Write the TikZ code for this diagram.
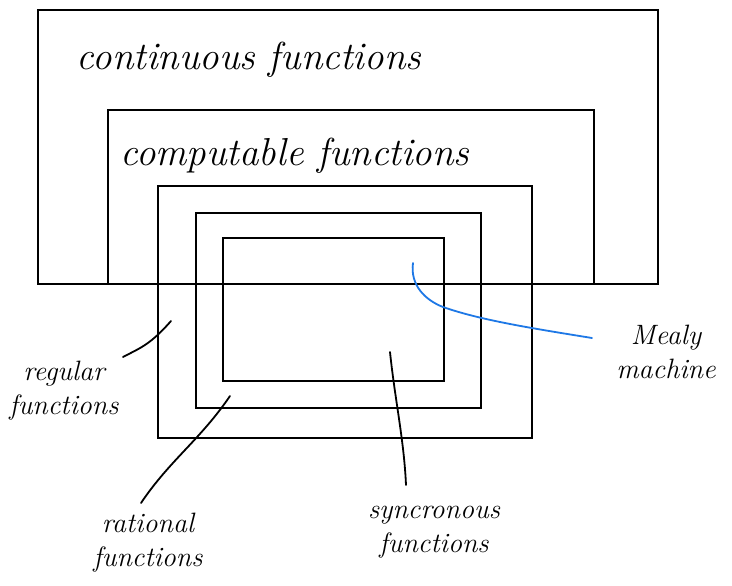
\documentclass[tikz,border=0pt]{standalone}
\usepackage{fontspec}
\setmainfont{Latin Modern Roman}
\begin{document}
\begin{tikzpicture}[x=1pt,y=-1pt,
  box/.style={draw=black,line width=2pt},
  lead/.style={draw=black,line width=1.8pt,line cap=round},
  big/.style={font=\itshape\fontsize{39}{39}\selectfont,inner sep=0pt},
  small/.style={font=\itshape\fontsize{28}{34}\selectfont,align=center,inner sep=0pt}]
\useasboundingbox[fill=white] (0,0) rectangle (732,586);
% rectangles
\draw[box] (38,10) rectangle (658,284);
\draw[box] (108,110) rectangle (594,284);
\draw[box] (158,186) rectangle (532,438);
\draw[box] (196,213) rectangle (481,408);
\draw[box] (223,238) rectangle (444,381);
% labels
\node[big] (cont) at (249,60) {continuous functions};
\node[big] (comp) at (295,156) {computable functions};
\node[small] (reg) at (64,391) {regular\\functions};
\node[small] (rat) at (148,543) {rational\\functions};
\node[small] (syn) at (434,532) {syncronous\\functions};
\node[small] (mealy) at (666,352) {Mealy\\machine};
% anchor points
\coordinate (regin) at (171,321);
\coordinate (ratin) at (230,396);
\coordinate (synin) at (390,352);
\coordinate (mealyin) at (413,263);
\coordinate (regout) at (123,357);
\coordinate (ratout) at (141,503);
\coordinate (synout) at (406,485);
\coordinate (mealyout) at (592,338);
% connectors
\draw[lead] (regin) .. controls (150,345) and (140,348) .. (regout);
\draw[lead] (ratin) .. controls (200,440) and (170,460) .. (ratout);
\draw[lead] (synin) .. controls (395,400) and (404,440) .. (synout);
\draw[line width=1.8pt,draw={rgb,255:red,30;green,120;blue,230},line cap=round]
  (mealyin) .. controls (410,285) and (425,300) .. (443,307)
  .. controls (480,320) and (530,328) .. (mealyout);
\end{tikzpicture}
\end{document}
